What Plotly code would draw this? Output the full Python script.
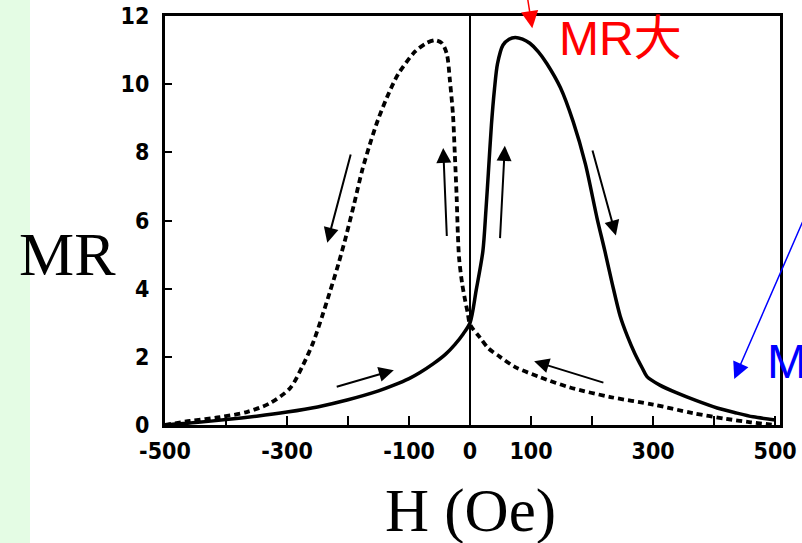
import plotly.graph_objects as go

# ---- data ----
H_solid = [-500, -450, -400, -350, -300, -250, -200, -150, -126, -100, -82, -60, -40, -25, -11, 0,
           10, 21, 26, 30, 35, 40, 45, 54, 64, 74, 86, 98, 112, 126, 148, 169, 189, 208, 221,
           233, 246, 258, 270, 282, 290, 311, 339, 370, 405, 435, 464, 500]
MR_solid = [0.0, 0.07, 0.16, 0.26, 0.38, 0.53, 0.74, 1.0, 1.16, 1.36, 1.54, 1.8, 2.08, 2.36, 2.68, 3.0,
            3.95, 5.1, 6.3, 7.4, 8.8, 9.85, 10.6, 11.15, 11.32, 11.37, 11.32, 11.2, 10.95, 10.6, 9.9,
            8.9, 7.66, 6.08, 5.1, 4.15, 3.2, 2.6, 2.1, 1.68, 1.42, 1.17, 0.94, 0.72, 0.5, 0.36, 0.24, 0.15]

H_dotted = [-500, -459, -410, -366, -328, -295, -274, -257, -243, -230, -216, -203, -190, -177, -164,
            -151, -136, -118, -90, -72, -57, -46, -38, -33, -28, -25, -22, -20, -18, -13, -8, -4, 0,
            16, 30, 49, 74, 115, 164, 230, 300, 365, 420, 460, 500]
MR_dotted = [0.0, 0.12, 0.23, 0.38, 0.64, 1.08, 1.75, 2.43, 3.16, 3.89, 4.71, 5.56, 6.49, 7.46, 8.25,
             8.95, 9.62, 10.29, 10.96, 11.2, 11.29, 11.2, 10.88, 10.1, 9.1, 7.95, 6.7, 5.6, 4.9, 4.15, 3.65, 3.3, 2.95,
             2.57, 2.25, 2.0, 1.7, 1.4, 1.1, 0.82, 0.6, 0.35, 0.18, 0.08, 0.0]

x_tickvals = [-500, -400, -300, -200, -100, 0, 100, 200, 300, 400, 500]
x_ticktext = ["-500", "", "-300", "", "-100", "0", "100", "", "300", "", "500"]
y_tickvals = [0, 2, 4, 6, 8, 10, 12]
y_ticktext = ["0", "2", "4", "6", "8", "10", "12"]

# direction arrows: (tail H, tail MR, head H, head MR)
arrow_tail_H = [-195, -38, 49, 200, -221, 221]
arrow_tail_MR = [7.98, 5.5, 5.44, 8.1, 1.11, 1.23]
arrow_head_H = [-234, -44, 57, 239, -125, 105]
arrow_head_MR = [5.35, 8.13, 8.19, 5.56, 1.61, 1.87]

tick_font = dict(family="Liberation Sans Narrow, DejaVu Sans Condensed, sans-serif",
                 size=23, color="black", weight="bold")

fig = go.Figure()
fig.add_trace(go.Scatter(x=H_dotted, y=MR_dotted, mode="lines",
                         line=dict(color="black", width=3.8, dash="6px,4px", shape="spline", smoothing=0.8),
                         showlegend=False, hoverinfo="skip"))
fig.add_trace(go.Scatter(x=H_solid, y=MR_solid, mode="lines",
                         line=dict(color="black", width=3.5, shape="spline", smoothing=0.8),
                         showlegend=False, hoverinfo="skip"))

annotations = []
for th, tm, hh, hm in zip(arrow_tail_H, arrow_tail_MR, arrow_head_H, arrow_head_MR):
    annotations.append(dict(x=hh, y=hm, ax=th, ay=tm, xref="x", yref="y", axref="x", ayref="y",
                            text="", showarrow=True, arrowhead=2, arrowsize=1.5, arrowwidth=2,
                            arrowcolor="black", standoff=0, startstandoff=0))

# red and blue pointer arrows
annotations.append(dict(x=102, y=11.64, ax=94, ay=12.55, xref="x", yref="y", axref="x", ayref="y",
                        text="", showarrow=True, arrowhead=2, arrowsize=2.3, arrowwidth=1.5,
                        arrowcolor="#ff0000", standoff=0))
annotations.append(dict(x=433, y=1.35, ax=546, ay=6.0, xref="x", yref="y", axref="x", ayref="y",
                        text="", showarrow=True, arrowhead=2, arrowsize=2.2, arrowwidth=1.5,
                        arrowcolor="#0000ff", standoff=0))

annotations.append(dict(x=142, y=11.35, xref="x", yref="y", xanchor="left", yanchor="middle",
                        text="MR大", showarrow=False,
                        font=dict(family="Liberation Sans, Noto Sans CJK SC, sans-serif", size=48, color="#ff0000")))
annotations.append(dict(x=483, y=1.85, xref="x", yref="y", xanchor="left", yanchor="middle",
                        text="M", showarrow=False,
                        font=dict(family="Liberation Sans, sans-serif", size=48, color="#0000ff")))

# axis titles
annotations.append(dict(x=-0.159, y=0.418, xref="paper", yref="paper", xanchor="center", yanchor="middle",
                        text="MR", showarrow=False,
                        font=dict(family="Liberation Serif, Times New Roman, serif", size=62, color="black")))
annotations.append(dict(x=0.496, y=-0.21, xref="paper", yref="paper", xanchor="center", yanchor="middle",
                        text="H (Oe)", showarrow=False,
                        font=dict(family="Liberation Serif, Times New Roman, serif", size=61, color="black")))

fig.update_layout(
    width=802, height=543,
    margin=dict(l=165, r=22, t=16, b=118, autoexpand=False),
    paper_bgcolor="white", plot_bgcolor="white",
    annotations=annotations,
    shapes=[dict(type="rect", xref="paper", yref="paper", x0=-0.2683, x1=-0.2195, y0=-0.29, y1=1.04,
                 fillcolor="#e4fce4", line=dict(width=0), layer="below")],
)
fig.update_xaxes(range=[-500, 508], tickvals=x_tickvals, ticktext=x_ticktext, tickfont=tick_font,
                 ticks="inside", ticklen=9, tickwidth=2, tickcolor="black", automargin=False,
                 ticklabelstandoff=3,
                 showline=True, linecolor="black", linewidth=3, mirror=True,
                 showgrid=False, zeroline=True, zerolinecolor="black", zerolinewidth=2)
fig.update_yaxes(range=[0, 12], tickvals=y_tickvals, ticktext=y_ticktext, tickfont=tick_font,
                 ticks="inside", ticklen=7, tickwidth=2, tickcolor="black", ticklabelstandoff=8,
                 automargin=False,
                 showline=True, linecolor="black", linewidth=3, mirror=True,
                 showgrid=False, zeroline=False)

fig.write_html("out.html", config={"displayModeBar": False},
               post_script="document.body.style.margin='0px';")
